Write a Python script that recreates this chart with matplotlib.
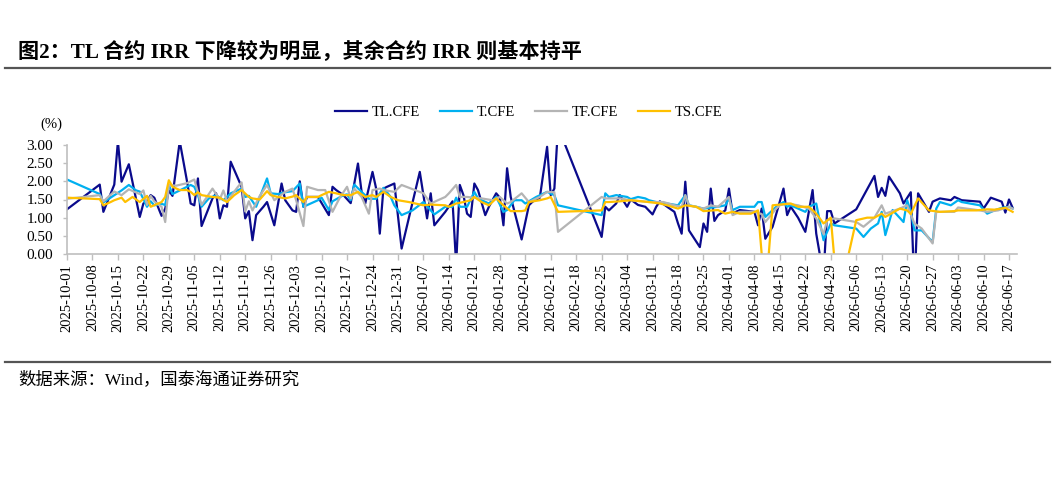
import matplotlib
matplotlib.use("Agg")
import matplotlib.pyplot as plt
import matplotlib.dates as mdates
import numpy as np
import pandas as pd

plt.rcParams['font.family'] = ['Liberation Serif', 'Noto Sans CJK SC']

# 数据 (日期偏移: 距 2025-10-01 的天数)
start_date = pd.Timestamp("2025-10-01")

tl_days = [0, 9, 10, 13, 14, 15, 17, 20, 21, 22, 23, 24, 26, 27, 28, 29, 31, 33, 34, 35,
           36, 37, 40, 41, 42, 43, 44, 45, 48, 49, 50, 51, 52, 54, 55, 57, 59, 60, 62, 63,
           64, 65, 66, 69, 72, 73, 74, 76, 78, 80, 81, 82, 84, 85, 86, 87, 88, 90, 92, 97,
           99, 100, 101, 104, 106, 107, 108, 109, 110, 111, 112, 113, 115, 116, 118, 119, 120, 121, 122, 125,
           127, 128, 130, 132, 133, 134, 135, 147, 148, 149, 151, 152, 154, 155, 157, 159, 161, 162, 163, 165,
           167, 168, 169, 170, 171, 174, 175, 176, 177, 178, 179, 181, 182, 183, 185, 189, 190, 191, 192, 194,
           197, 198, 199, 201, 203, 205, 206, 208, 209, 210, 211, 217, 222, 223, 224, 225, 226, 229, 230, 232,
           233, 234, 237, 238, 240, 243, 244, 246, 251, 252, 254, 257, 258, 259, 260]
tl_vals = [1.23, 1.91, 1.16, 1.91, 3.10, 1.99, 2.47, 1.02, 1.39, 1.45, 1.62, 1.55, 1.05, 1.25, 1.75, 1.60, 3.10, 2.00, 1.39, 1.34,
           2.08, 0.77, 1.53, 1.67, 0.98, 1.34, 1.30, 2.54, 1.85, 0.98, 1.18, 0.38, 1.07, 1.30, 1.43, 0.79, 1.94, 1.48, 1.20, 1.16,
           2.00, 1.30, 1.57, 1.57, 1.07, 1.85, 1.76, 1.62, 1.40, 2.49, 1.71, 1.39, 2.26, 1.80, 0.56, 1.80, 1.85, 1.94, 0.15, 2.26,
           0.98, 1.67, 0.79, 1.16, 1.45, -0.30, 1.90, 1.62, 1.11, 1.02, 1.94, 1.76, 1.07, 1.30, 1.67, 1.55, 0.79, 2.36, 1.57, 0.40,
           1.34, 1.44, 1.55, 2.95, 1.62, 1.80, 3.50, 0.47, 1.30, 1.20, 1.39, 1.62, 1.30, 1.50, 1.35, 1.30, 1.09, 1.30, 1.45, 1.30,
           1.16, 0.84, 0.56, 1.99, 0.65, 0.19, 0.84, 0.61, 1.80, 0.91, 1.07, 1.20, 1.80, 1.12, 1.21, 1.16, 0.79, 1.25, 0.42, 0.75,
           1.80, 1.07, 1.30, 1.00, 0.61, 1.76, 0.56, -0.60, 1.18, 1.18, 0.84, 1.23, 2.15, 1.57, 1.82, 1.60, 2.13, 1.67, 1.39, 1.70,
           -1.00, 1.67, 1.16, 1.44, 1.53, 1.48, 1.57, 1.48, 1.44, 1.25, 1.55, 1.44, 1.14, 1.50, 1.27]

t_days = [0, 9, 10, 13, 15, 17, 19, 20, 22, 23, 24, 26, 27, 28, 29, 30, 32, 34, 35, 36,
          37, 39, 41, 43, 44, 45, 48, 49, 50, 52, 55, 56, 58, 60, 62, 64, 65, 69, 70, 72,
          73, 76, 77, 78, 79, 81, 83, 85, 87, 89, 90, 92, 95, 98, 101, 104, 106, 107, 108, 110,
          112, 113, 114, 116, 118, 120, 121, 123, 125, 126, 129, 132, 134, 135, 147, 148, 149, 151, 154, 155,
          157, 159, 160, 162, 165, 168, 170, 171, 173, 175, 179, 181, 182, 183, 185, 189, 190, 191, 192, 195,
          197, 198, 199, 203, 204, 206, 207, 208, 210, 211, 217, 219, 221, 223, 224, 225, 227, 230, 231, 232,
          233, 235, 238, 239, 240, 243, 245, 246, 251, 253, 255, 257, 259, 260]
t_vals = [2.05, 1.65, 1.42, 1.62, 1.75, 1.90, 1.75, 1.72, 1.30, 1.45, 1.34, 1.38, 1.35, 1.90, 1.65, 1.70, 1.80, 1.90, 1.85, 1.62,
          1.30, 1.53, 1.62, 1.48, 1.57, 1.67, 1.80, 1.57, 1.60, 1.30, 2.08, 1.67, 1.65, 1.70, 1.73, 1.94, 1.30, 1.48, 1.55, 1.21,
          1.45, 1.62, 1.64, 1.48, 1.91, 1.71, 1.52, 1.52, 1.82, 1.57, 1.34, 1.07, 1.20, 1.43, 1.09, 1.30, 1.30, 1.55, 1.30, 1.30,
          1.71, 1.53, 1.48, 1.39, 1.57, 1.16, 1.21, 1.48, 1.48, 1.39, 1.57, 1.71, 1.62, 1.34, 1.07, 1.67, 1.57, 1.62, 1.57, 1.51,
          1.57, 1.53, 1.48, 1.43, 1.39, 1.34, 1.62, 1.34, 1.30, 1.25, 1.30, 1.34, 1.53, 1.21, 1.30, 1.30, 1.43, 1.43, 1.02, 1.30,
          1.43, 1.30, 1.34, 1.16, 1.30, 1.39, 0.88, 0.38, 0.84, 0.79, 0.70, 0.47, 0.70, 0.84, 1.16, 0.52, 1.21, 0.88, 1.48, 1.16,
          0.65, 0.65, 0.33, 1.25, 1.43, 1.34, 1.48, 1.43, 1.34, 1.11, 1.20, 1.27, 1.30, 1.25]

tf_days = [0, 9, 10, 13, 15, 17, 20, 21, 22, 23, 24, 26, 27, 28, 30, 33, 35, 37, 40, 42,
           43, 44, 47, 48, 49, 50, 51, 53, 55, 57, 60, 62, 63, 65, 66, 69, 71, 73, 75, 77,
           78, 79, 81, 83, 84, 86, 87, 90, 92, 98, 100, 104, 105, 107, 108, 110, 114, 117, 119, 121,
           122, 125, 127, 130, 132, 134, 135, 147, 148, 152, 155, 160, 164, 167, 169, 170, 171, 175, 177, 179,
           182, 183, 185, 189, 191, 192, 195, 196, 198, 201, 204, 206, 208, 209, 211, 217, 219, 222, 224, 225,
           229, 231, 233, 235, 238, 239, 244, 245, 251, 253, 256, 259, 260]
tf_vals = [1.52, 1.62, 1.45, 1.72, 1.62, 1.78, 1.65, 1.75, 1.35, 1.60, 1.45, 1.30, 0.88, 1.90, 1.88, 1.95, 2.05, 1.35, 1.80, 1.50,
           1.75, 1.45, 1.85, 1.97, 1.17, 1.45, 1.20, 1.60, 1.90, 1.48, 1.71, 1.80, 1.48, 0.77, 1.85, 1.76, 1.76, 1.16, 1.55, 1.85,
           1.53, 1.80, 1.57, 1.11, 1.76, 1.80, 1.76, 1.71, 1.90, 1.67, 1.39, 1.57, 1.67, 1.90, 1.57, 1.57, 1.53, 1.48, 1.57, 1.39,
           1.43, 1.67, 1.43, 1.57, 1.71, 1.70, 0.61, 1.57, 1.53, 1.53, 1.48, 1.43, 1.43, 1.34, 1.30, 1.62, 1.34, 1.25, 1.34, 1.30,
           1.57, 1.07, 1.16, 1.16, 1.10, 0.88, 1.25, 1.34, 1.39, 1.34, 1.25, 0.98, 0.55, 0.93, 0.98, 0.88, 0.75, 1.00, 1.34, 1.11,
           1.25, 1.34, 0.84, 0.70, 0.29, 1.16, 1.16, 1.28, 1.20, 1.16, 1.20, 1.30, 1.25]

ts_days = [0, 9, 10, 12, 13, 15, 16, 18, 20, 22, 23, 26, 27, 28, 29, 31, 33, 34, 35, 36,
           37, 40, 42, 44, 46, 48, 50, 51, 53, 55, 56, 58, 60, 62, 63, 65, 66, 69, 70, 72,
           74, 76, 78, 80, 82, 84, 85, 87, 89, 91, 94, 98, 100, 104, 105, 107, 109, 111, 112, 114,
           116, 118, 120, 122, 125, 126, 127, 130, 132, 133, 135, 147, 148, 149, 152, 155, 160, 163, 165, 168,
           170, 173, 175, 179, 181, 183, 185, 188, 190, 192, 194, 199, 201, 204, 206, 208, 210, 212, 217, 220,
           222, 224, 225, 229, 231, 232, 234, 237, 240, 244, 245, 250, 253, 255, 258, 260]
ts_vals = [1.55, 1.51, 1.34, 1.43, 1.48, 1.55, 1.43, 1.57, 1.43, 1.60, 1.30, 1.43, 1.57, 2.03, 1.85, 1.76, 1.76, 1.71, 1.62, 1.70,
           1.62, 1.57, 1.55, 1.43, 1.62, 1.76, 1.57, 1.53, 1.50, 1.73, 1.62, 1.57, 1.53, 1.58, 1.62, 1.43, 1.57, 1.57, 1.62, 1.71,
           1.67, 1.62, 1.62, 1.71, 1.57, 1.62, 1.57, 1.71, 1.57, 1.48, 1.43, 1.34, 1.36, 1.34, 1.30, 1.39, 1.43, 1.48, 1.57, 1.43,
           1.34, 1.53, 1.34, 1.18, 1.18, 1.20, 1.43, 1.48, 1.53, 1.57, 1.16, 1.20, 1.43, 1.43, 1.45, 1.48, 1.43, 1.39, 1.34, 1.25,
           1.34, 1.30, 1.18, 1.21, 1.11, 1.16, 1.11, 1.11, 1.20, -1.20, 1.34, 1.39, 1.30, 1.30, 1.11, 0.84, 1.00, -1.30, 0.93, 1.00,
           1.00, 1.11, 1.02, 1.25, 1.20, 1.10, 1.53, 1.20, 1.16, 1.18, 1.20, 1.20, 1.23, 1.22, 1.27, 1.16]

series = [
    ("TL.CFE", tl_days, tl_vals, "#0A0A8C"),
    ("T.CFE", t_days, t_vals, "#00B0F0"),
    ("TF.CFE", tf_days, tf_vals, "#B4B4B4"),
    ("TS.CFE", ts_days, ts_vals, "#FFC000"),
]

fig = plt.figure(figsize=(10.53, 4.88), dpi=100)

# 标题与分隔线
fig.text(18 / 1053, 1 - 52 / 488, "图2：TL 合约 IRR 下降较为明显，其余合约 IRR 则基本持平",
         fontsize=15.2, fontweight="bold", ha="left", va="center")
fig.add_artist(plt.Line2D([5 / 1053, 1050 / 1053], [1 - 68 / 488, 1 - 68 / 488],
                          color="#555555", lw=1.6))
fig.add_artist(plt.Line2D([5 / 1053, 1050 / 1053], [1 - 362 / 488, 1 - 362 / 488],
                          color="#555555", lw=1.6))
fig.text(18 / 1053, 1 - 380 / 488, "数据来源：Wind，国泰海通证券研究",
         fontsize=12.5, ha="left", va="center")

ax = fig.add_axes([67 / 1053, 1 - 254 / 488, (1017 - 67) / 1053, (254 - 145) / 488])

for name, days, vals, col in series:
    x = start_date + pd.to_timedelta(days, unit="D")
    ax.plot(x, vals, color=col, lw=1.6, label=name)

ax.set_ylim(0, 3)
ax.set_yticks(np.arange(0, 3.01, 0.5))
ax.yaxis.set_major_formatter(matplotlib.ticker.FormatStrFormatter("%.2f"))
ax.set_xlim(start_date, start_date + pd.Timedelta(days=261.2))
ax.xaxis.set_major_locator(mdates.WeekdayLocator(byweekday=mdates.WE))
ax.xaxis.set_major_formatter(mdates.DateFormatter("%Y-%m-%d"))
plt.setp(ax.get_xticklabels(), rotation=90, fontsize=10.5)
plt.setp(ax.get_yticklabels(), fontsize=11)

for s in ["top", "right"]:
    ax.spines[s].set_visible(False)
for s in ["left", "bottom"]:
    ax.spines[s].set_color("#BFBFBF")
    ax.spines[s].set_linewidth(1.2)
ax.tick_params(axis="both", colors="#BFBFBF", length=4, width=1)
ax.tick_params(axis="both", labelcolor="black")
ax.tick_params(axis="x", pad=3)
ax.tick_params(axis="y", length=3, pad=7)

ax.text(-0.016, 1.19, "(%)", transform=ax.transAxes, fontsize=10.5, ha="center", va="center")

ax.legend(loc="center", bbox_to_anchor=(0.486, 1.30), ncol=4, frameon=False,
          fontsize=10.5, handlelength=2.2, columnspacing=1.4, handletextpad=0.3)

fig.savefig("out.png", dpi=100)
